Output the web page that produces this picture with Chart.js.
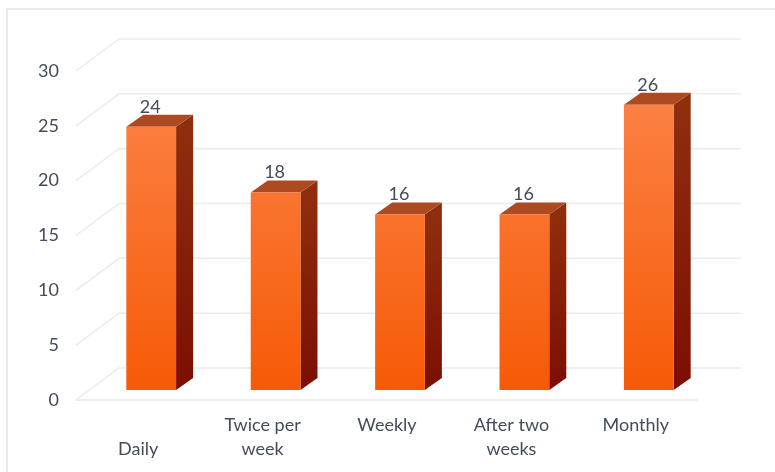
<!DOCTYPE html>
<html>
<head>
  <title>Frequency Chart</title>
  <script src="https://cdn.jsdelivr.net/npm/chart.js"></script>
  <style>
    html, body { margin: 0; padding: 0; background: #fff; overflow: hidden; }
    #wrap { width: 775px; height: 472px; }
  </style>
</head>
<body>
  <div id="wrap"><canvas id="barChart" width="775" height="472"></canvas></div>

  <script>
    const categories = ["Daily", "Twice per week", "Weekly", "After two weeks", "Monthly"];
    const tickLabels = [["", "Daily"], ["Twice per", "week"], "Weekly", ["After two", "weeks"], "Monthly"];
    const counts = [24, 18, 16, 16, 26];
    const yTicks = [0, 5, 10, 15, 20, 25, 30];

    const textColor = "#434b5c";
    const fontName = "Lato, sans-serif";

    // fake 3D: wall sits behind the floor, bars stand in the middle of it
    const wallDx = 43, wallDy = -32;
    const barDx = 13, barDy = -10;
    const depthDx = 17, depthDy = -12;

    function vGradient(ctx, y0, y1, c0, c1) {
      const g = ctx.createLinearGradient(0, y0, 0, y1);
      g.addColorStop(0, c0);
      g.addColorStop(1, c1);
      return g;
    }

    const fake3d = {
      id: "fake3d",
      beforeDraw(chart) {
        const { ctx, scales: { x, y } } = chart;
        ctx.save();
        // frame around the picture
        ctx.strokeStyle = "#e9e9e9";
        ctx.lineWidth = 2;
        ctx.beginPath();
        ctx.moveTo(7, 472);
        ctx.lineTo(7, 9);
        ctx.lineTo(775, 9);
        ctx.stroke();

        yTicks.forEach(v => {
          const py = y.getPixelForValue(v);
          ctx.lineWidth = 1.5;
          ctx.strokeStyle = "#ebebeb";
          ctx.beginPath();
          ctx.moveTo(x.left, py);
          ctx.lineTo(x.left + wallDx, py + wallDy);
          ctx.lineTo(x.right + wallDx, py + wallDy);
          ctx.stroke();
        });
        // floor front edge
        ctx.strokeStyle = "#e6e9ee";
        ctx.beginPath();
        ctx.moveTo(x.left, y.bottom);
        ctx.lineTo(x.right, y.bottom);
        ctx.stroke();
        ctx.restore();
      },
      beforeDatasetsDraw(chart) {
        const ctx = chart.ctx;
        ctx.save();
        ctx.translate(barDx, barDy);
        chart.getDatasetMeta(0).data.forEach(bar => {
          const r = bar.x + bar.width / 2;
          const l = bar.x - bar.width / 2;
          // front face gradient runs over each bar's own height
          bar.options.backgroundColor = vGradient(ctx, bar.y, bar.base, "#fb8043", "#f65a06");
          // side face
          ctx.fillStyle = vGradient(ctx, bar.y, bar.base, "#8f2e0d", "#7c0e02");
          ctx.beginPath();
          ctx.moveTo(r, bar.y);
          ctx.lineTo(r + depthDx, bar.y + depthDy);
          ctx.lineTo(r + depthDx, bar.base + depthDy);
          ctx.lineTo(r, bar.base);
          ctx.closePath();
          ctx.fill();
          // top face
          ctx.fillStyle = "#ae4a21";
          ctx.beginPath();
          ctx.moveTo(l, bar.y);
          ctx.lineTo(l + depthDx, bar.y + depthDy);
          ctx.lineTo(r + depthDx, bar.y + depthDy);
          ctx.lineTo(r, bar.y);
          ctx.closePath();
          ctx.fill();
        });
      },
      afterDatasetsDraw(chart) {
        const ctx = chart.ctx;
        // value labels, still in the shifted bar plane
        ctx.fillStyle = textColor;
        ctx.font = "18px " + fontName;
        ctx.textAlign = "center";
        ctx.textBaseline = "middle";
        chart.getDatasetMeta(0).data.forEach((bar, i) => {
          ctx.fillText(String(counts[i]), bar.x - 1, bar.y + depthDy - 8);
        });
        ctx.restore();
      }
    };

    new Chart(document.getElementById("barChart"), {
      type: "bar",
      data: {
        labels: categories,
        datasets: [{
          data: counts,
          borderWidth: 0,
          backgroundColor: "#f96a1c"
        }]
      },
      options: {
        responsive: false,
        animation: false,
        barPercentage: 0.4,
        categoryPercentage: 1,
        layout: { padding: { top: 71, right: 77, left: 0, bottom: 0 } },
        plugins: { legend: { display: false }, tooltip: { enabled: false } },
        scales: {
          x: {
            afterFit(s) { s.height = 72; },
            grid: { display: false },
            border: { display: false },
            ticks: {
              callback: (v, i) => tickLabels[i],
              color: textColor,
              font: { family: fontName, size: 18, lineHeight: 1.33 },
              maxRotation: 0,
              autoSkip: false,
              padding: 5
            }
          },
          y: {
            min: 0,
            max: 30,
            afterFit(s) { s.width = 76; },
            grid: { display: false },
            border: { display: false },
            ticks: {
              stepSize: 5,
              color: textColor,
              font: { family: fontName, size: 18 },
              padding: 9
            }
          }
        }
      },
      plugins: [fake3d]
    });
  </script>
</body>
</html>
